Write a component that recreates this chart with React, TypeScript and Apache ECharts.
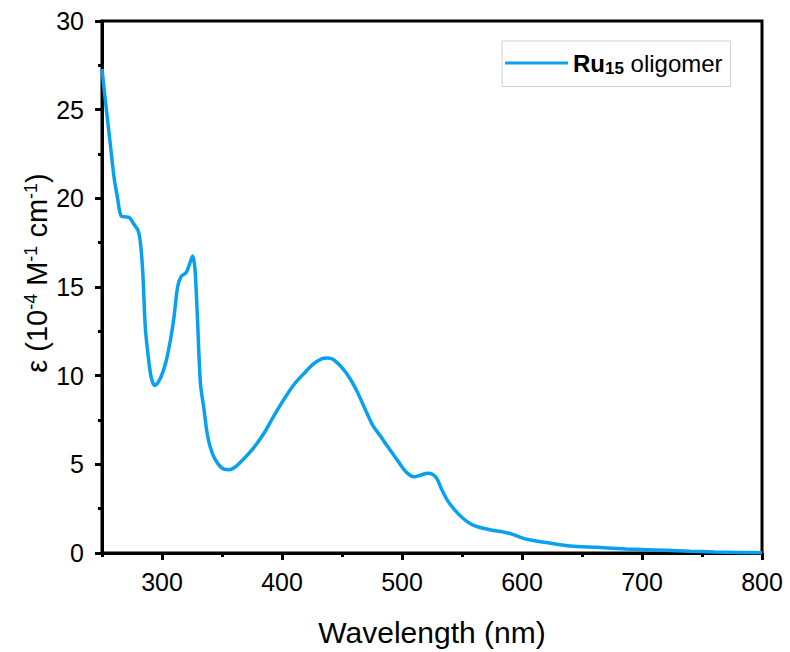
import React, { useEffect, useRef } from "react";
import * as echarts from "echarts";

const wavelengths = [
  250, 252, 254, 257, 260, 263, 266, 270, 273, 277, 280, 282, 284, 286, 288, 291, 294, 296, 299,
  303, 307, 310, 313, 316, 320, 323, 325.5, 327.5, 329.5, 332, 335, 338, 342, 347, 352, 356, 361,
  368, 376, 385, 393, 401, 410, 418, 426, 433, 438, 443, 450, 457, 463, 468, 476, 482, 488, 496,
  503, 510, 516, 521, 525, 529, 533, 538, 543, 550, 557, 563, 574, 590, 600, 607, 624, 640, 662,
  687, 700, 720, 740, 760, 780, 800,
];
const epsilon = [
  27.3, 26.0, 24.8, 23.0, 21.2, 20.0, 19.0, 18.95, 18.9, 18.5, 18.2, 17.5, 15.8, 12.8, 11.4, 9.9,
  9.45, 9.55, 9.9, 10.7, 12.0, 13.3, 15.0, 15.6, 15.8, 16.3, 16.75, 16.0, 13.3, 9.6, 8.1, 6.6, 5.6,
  5.0, 4.72, 4.7, 4.85, 5.3, 5.9, 6.75, 7.7, 8.6, 9.5, 10.1, 10.65, 10.95, 11.0, 10.9, 10.45, 9.8,
  9.05, 8.3, 7.15, 6.6, 6.0, 5.25, 4.6, 4.3, 4.4, 4.5, 4.45, 4.2, 3.6, 2.95, 2.5, 2.0, 1.65, 1.48,
  1.3, 1.1, 0.85, 0.73, 0.55, 0.4, 0.32, 0.23, 0.2, 0.15, 0.1, 0.06, 0.03, 0.02,
];
const xMajorTicks = [300, 400, 500, 600, 700, 800];
const xMinorTicks = [250, 350, 450, 550, 650, 750];
const seriesName = "Ru15 oligomer";
const xTitle = "Wavelength (nm)";
const yTitleRich = "{t|ε (10}{u|-4}{t| M}{u|-1}{t| cm}{u|-1}{t|)}";

const FONT = "Arial, 'Liberation Sans', sans-serif";
const LINE_COLOR = "#0aa0f0";

export default function App() {
  const ref = useRef<HTMLDivElement>(null);
  useEffect(() => {
    if (!ref.current) return;
    const chart = echarts.init(ref.current, null, { renderer: "svg" });
    const data = wavelengths.map((w, i) => [w, epsilon[i]]);
    chart.setOption({
      animation: false,
      grid: {
        left: 102,
        right: 28,
        top: 21,
        bottom: 99,
        show: true,
        borderColor: "#000",
        borderWidth: 3,
        backgroundColor: "transparent",
      },
      graphic: [
        {
          type: "text",
          x: 37,
          y: 273,
          rotation: Math.PI / 2,
          style: {
            text: yTitleRich,
            align: "center",
            verticalAlign: "middle",
            rich: {
              t: { fontFamily: FONT, fontSize: 29, fill: "#000", color: "#000" },
              u: {
                fontFamily: FONT,
                fontSize: 18,
                fill: "#000",
                color: "#000",
                padding: [0, 0, 12, 0],
              },
            },
          },
        },
      ],
      legend: {
        left: 502,
        top: 41,
        orient: "vertical",
        padding: [10, 8, 10, 3],
        borderColor: "#d0d0d0",
        borderWidth: 1,
        itemWidth: 63,
        itemHeight: 14,
        itemGap: 5,
        icon: "path://M0,5.5 L63,5.5 L63,8.5 L0,8.5 Z",
        data: [seriesName],
        formatter: () => "{b|Ru}{s|15}{n| oligomer}",
        textStyle: {
          fontFamily: FONT,
          fontSize: 24,
          color: "#000",
          rich: {
            b: { fontFamily: FONT, fontSize: 24, fontWeight: "bold", color: "#000" },
            s: {
              fontFamily: FONT,
              fontSize: 17,
              fontWeight: "bold",
              color: "#000",
              padding: [10, 0, 0, 0],
            },
            n: { fontFamily: FONT, fontSize: 24, color: "#000" },
          },
        },
      },
      xAxis: [
        {
          type: "value",
          min: 250,
          max: 800,
          position: "bottom",
          name: xTitle,
          nameLocation: "middle",
          nameGap: 64,
          nameTextStyle: { fontFamily: FONT, fontSize: 30, color: "#000" },
          axisLine: { show: true, lineStyle: { color: "#000", width: 3 } },
          axisTick: {
            show: true,
            length: 7,
            customValues: xMajorTicks,
            lineStyle: { color: "#000", width: 3 },
          },
          axisLabel: {
            customValues: xMajorTicks,
            fontFamily: FONT,
            fontSize: 25,
            color: "#000",
            margin: 16,
          },
          splitLine: { show: false },
        },
        {
          type: "value",
          min: 250,
          max: 800,
          position: "bottom",
          axisLine: { show: false },
          axisTick: {
            show: true,
            length: 4,
            customValues: xMinorTicks,
            lineStyle: { color: "#000", width: 3 },
          },
          axisLabel: { show: false },
          splitLine: { show: false },
        },
      ],
      yAxis: {
        type: "value",
        min: 0,
        max: 30,
        interval: 5,
        axisLine: { show: true, lineStyle: { color: "#000", width: 3 } },
        axisTick: { show: true, length: 7, lineStyle: { color: "#000", width: 3 } },
        minorTick: { show: true, splitNumber: 2, length: 4, lineStyle: { color: "#000", width: 3 } },
        axisLabel: { fontFamily: FONT, fontSize: 25, color: "#000", margin: 18 },
        splitLine: { show: false },
      },
      series: [
        {
          name: seriesName,
          type: "line",
          xAxisIndex: 0,
          data,
          smooth: 0.3,
          showSymbol: false,
          symbol: "none",
          lineStyle: { color: LINE_COLOR, width: 3.5 },
          itemStyle: { color: LINE_COLOR },
        },
      ],
    });
    return () => chart.dispose();
  }, []);
  return (
    <div
      ref={ref}
      style={{ position: "absolute", left: 0, top: 0, width: 790, height: 652 }}
    />
  );
}
